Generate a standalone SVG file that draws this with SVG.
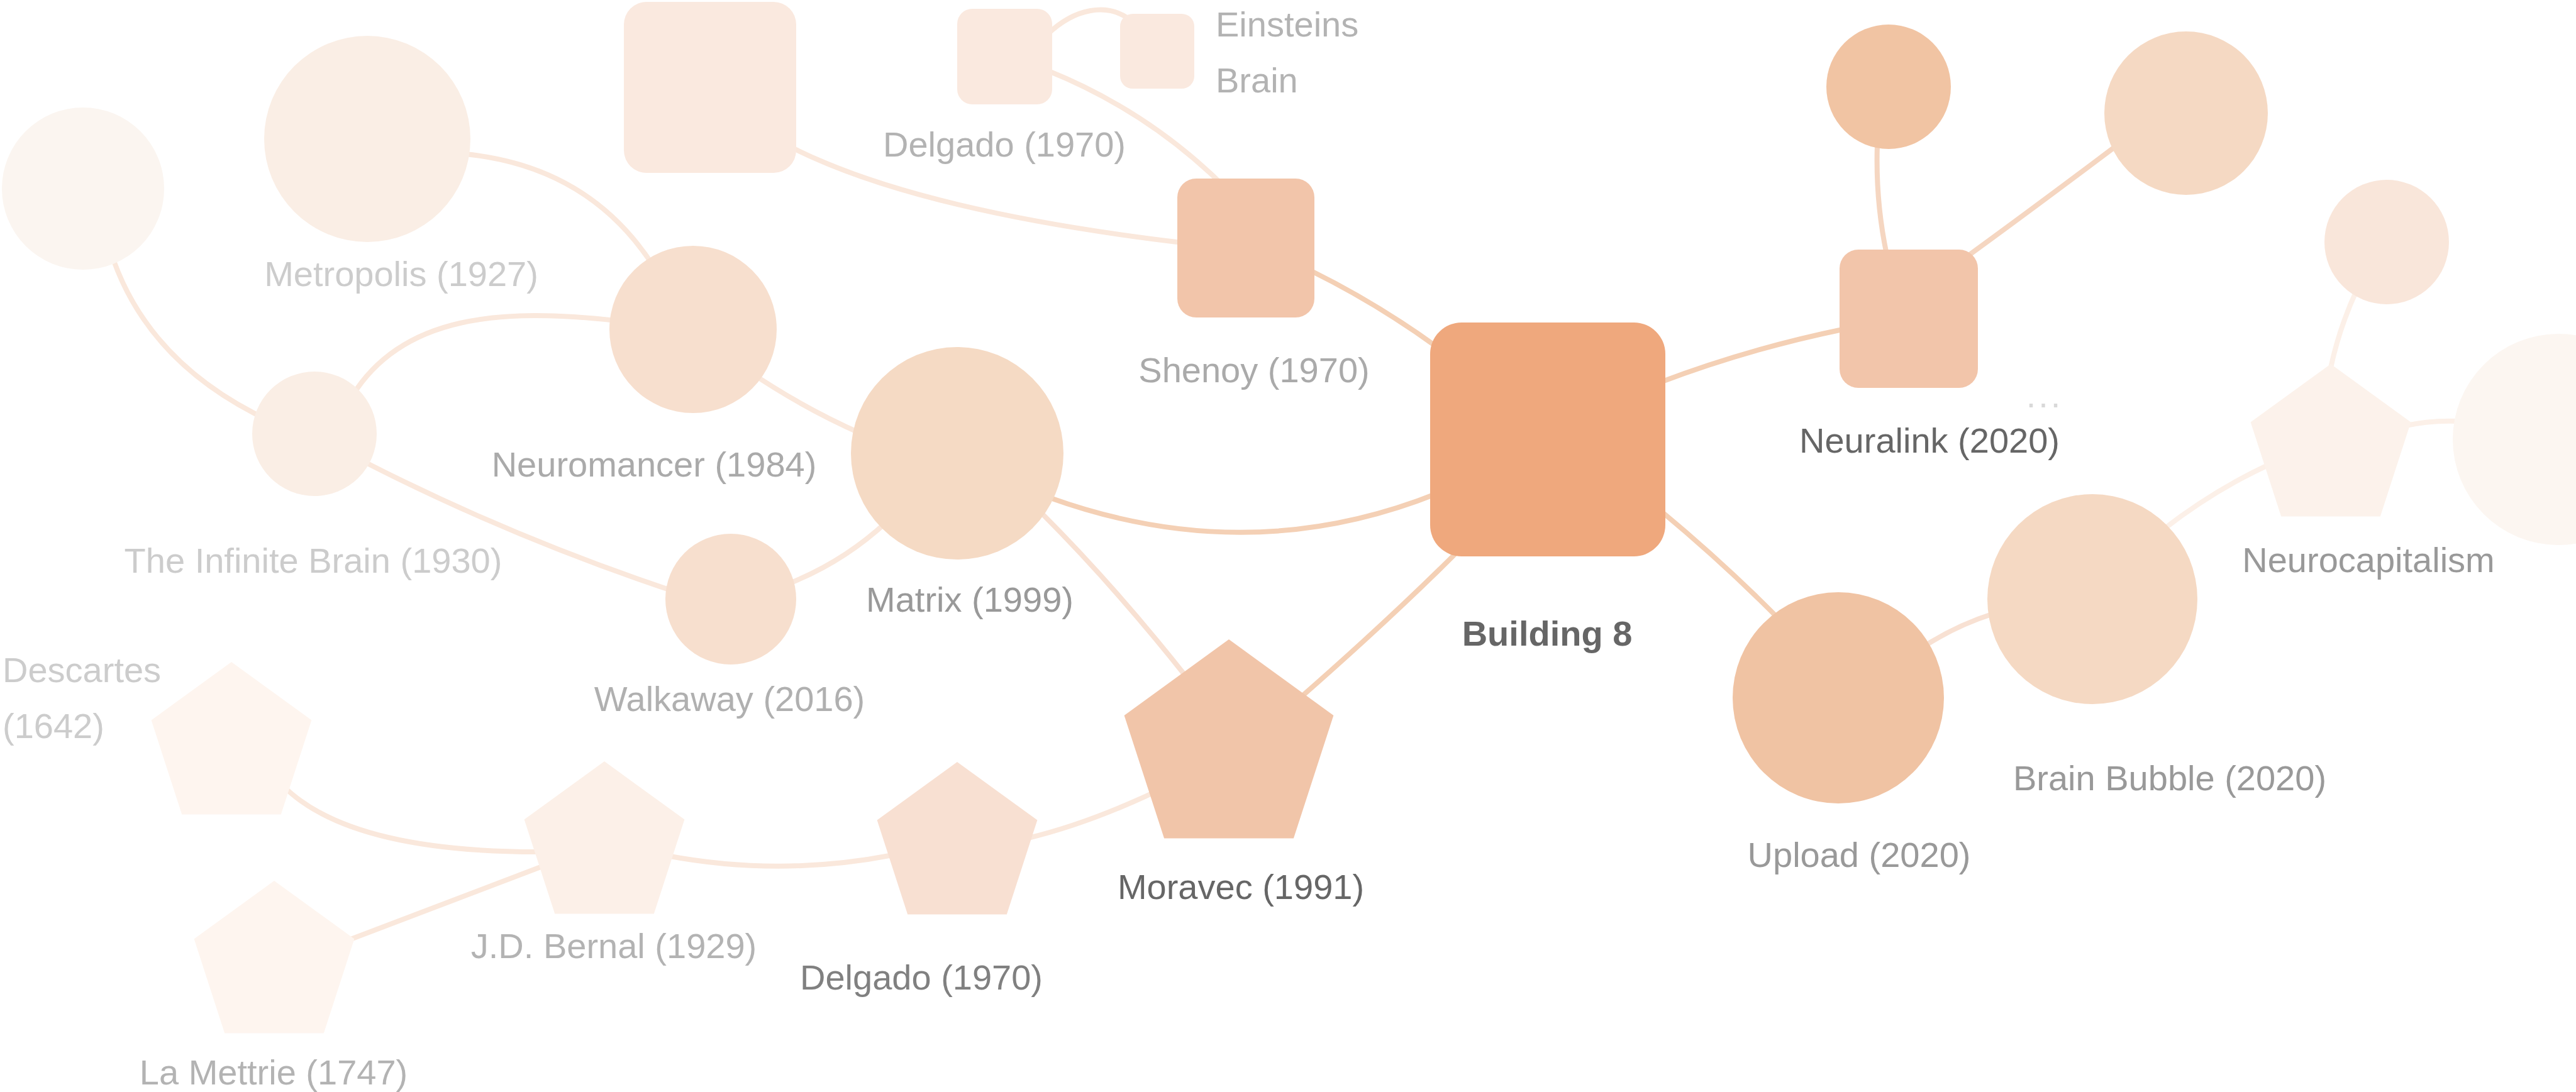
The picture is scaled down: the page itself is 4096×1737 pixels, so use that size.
<svg xmlns="http://www.w3.org/2000/svg" width="4096" height="1737" viewBox="0 0 4096 1737">
<style>
text{font-family:"Liberation Sans",Arial,Helvetica,sans-serif;font-size:56px;text-anchor:middle}
.l{text-anchor:start}
.e{fill:none;stroke-width:8;stroke-linecap:butt}
.e1{stroke:#F4D0B5}.e2{stroke:#F8E1D3}.e3{stroke:#FAE8DC}.e4{stroke:#FCF0E8}.e5{stroke:#F5D6C1}
</style>
<rect width="4096" height="1737" fill="#ffffff"/>
<g id="connectors">
<path class="e e3" d="M170,380 Q222,573 430,670"/>
<path class="e e3" d="M740,245 Q938,265 1040,425"/>
<path class="e e3" d="M560,630 C640,500 800,490 980,510"/>
<path class="e e3" d="M580,735 Q815,855 1070,940"/>
<path class="e e3" d="M1190,590 Q1275,648 1370,690"/>
<path class="e e3" d="M1250,930 Q1340,895 1410,830"/>
<path class="e e3" d="M1250,230 Q1450,335 1880,386"/>
<path class="e e3" d="M1665,55 C1710,12 1760,5 1795,30"/>
<path class="e e3" d="M1665,112 Q1827,177 1950,300"/>
<path class="e e1" d="M2085,431 Q2190,483 2285,552"/>
<path class="e e1" d="M1670,792 Q1985,905 2285,785"/>
<path class="e e2" d="M1655,815 Q1770,930 1885,1075"/>
<path class="e e1" d="M2320,875 Q2210,985 2065,1112"/>
<path class="e e3" d="M450,1250 Q555,1355 855,1355"/>
<path class="e e3" d="M1060,1361 Q1240,1395 1420,1360"/>
<path class="e e3" d="M555,1495 L865,1377"/>
<path class="e e3" d="M1635,1333 Q1730,1310 1838,1259"/>
<path class="e e1" d="M2640,608 Q2780,555 2930,524"/>
<path class="e e5" d="M3000,405 Q2982,320 2985,230"/>
<path class="e e5" d="M3125,410 Q3235,330 3365,232"/>
<path class="e e1" d="M2640,812 Q2740,895 2826,982"/>
<path class="e e2" d="M3058,1029 Q3110,995 3170,976"/>
<path class="e e4" d="M3440,842 Q3520,780 3606,740"/>
<path class="e e4" d="M3706,585 Q3720,520 3748,460"/>
<path class="e e4" d="M3820,678 Q3865,668 3910,670"/>
</g>
<g id="n-left-circle"><circle cx="132" cy="300" r="129" fill="#FBF5F0"/></g>
<g id="n-metropolis"><circle cx="584" cy="221" r="164" fill="#FAEEE5"/><text x="638" y="455" fill="#cccccc">Metropolis (1927)</text></g>
<g id="n-top-rect"><rect x="992" y="3" width="274" height="272" rx="36" fill="#FAE9DF"/></g>
<g id="n-delgado-top"><rect x="1522" y="14" width="151" height="152" rx="24" fill="#FAE9DF"/><text x="1597" y="249" fill="#b3b3b3">Delgado (1970)</text></g>
<g id="n-einsteins-brain"><rect x="1781" y="22" width="118" height="119" rx="20" fill="#FAE9DF"/><text class="l" x="1933" y="58" fill="#b3b3b3">Einsteins</text><text class="l" x="1933" y="147" fill="#b3b3b3">Brain</text></g>
<g id="n-shenoy"><rect x="1872" y="284" width="218" height="221" rx="30" fill="#F2C5AA"/><text x="1994" y="608" fill="#aaaaaa">Shenoy (1970)</text></g>
<g id="n-building8"><rect x="2274" y="513" width="374" height="372" rx="50" fill="#EFA87D"/><text x="2460" y="1027" fill="#666666" font-weight="bold">Building 8</text></g>
<g id="n-neuromancer"><circle cx="1102" cy="524" r="133" fill="#F7DFCE"/><text x="1040" y="758" fill="#aaaaaa">Neuromancer (1984)</text></g>
<g id="n-infinite-brain"><circle cx="500" cy="690" r="99" fill="#FAEEE5"/><text x="498" y="911" fill="#cccccc">The Infinite Brain (1930)</text></g>
<g id="n-matrix"><circle cx="1522" cy="721" r="169" fill="#F5DAC4"/><text x="1542" y="973" fill="#999999">Matrix (1999)</text></g>
<g id="n-walkaway"><circle cx="1162" cy="953" r="104" fill="#F7DFCE"/><text x="1160" y="1131" fill="#b0b0b0">Walkaway (2016)</text></g>
<g id="n-descartes"><polygon points="368,1053 495.4,1145.6 446.8,1295.4 289.2,1295.4 240.6,1145.6" fill="#FEF5EF"/><text class="l" x="4" y="1085" fill="#cccccc">Descartes</text><text class="l" x="4" y="1174" fill="#cccccc">(1642)</text></g>
<g id="n-bernal"><polygon points="961,1211 1088.4,1303.6 1039.8,1453.4 882.2,1453.4 833.6,1303.6" fill="#FCF0E8"/><text x="976" y="1524" fill="#b3b3b3">J.D. Bernal (1929)</text></g>
<g id="n-lamettrie"><polygon points="436,1401 563.4,1493.6 514.8,1643.4 357.2,1643.4 308.6,1493.6" fill="#FEF5EF"/><text x="435" y="1725" fill="#b3b3b3">La Mettrie (1747)</text></g>
<g id="n-delgado"><polygon points="1522,1212 1649.4,1304.6 1600.8,1454.4 1443.2,1454.4 1394.6,1304.6" fill="#F8E0D2"/><text x="1465" y="1574" fill="#808080">Delgado (1970)</text></g>
<g id="n-moravec"><polygon points="1954,1017 2120.4,1137.9 2056.9,1333.6 1851.1,1333.6 1787.6,1137.9" fill="#F1C5A9"/><text x="1973" y="1430" fill="#666666">Moravec (1991)</text></g>
<g id="n-neuralink"><rect x="2925" y="397" width="220" height="220" rx="30" fill="#F2C5AA"/><text x="3251" y="648" fill="#d9d9d9" letter-spacing="4">...</text><text x="3068" y="720" fill="#666666">Neuralink (2020)</text></g>
<g id="n-top-circle"><circle cx="3003" cy="138" r="99" fill="#F1C4A3"/></g>
<g id="n-circle2"><circle cx="3476" cy="180" r="130" fill="#F5D9C3"/></g>
<g id="n-circle3"><circle cx="3795" cy="385" r="99" fill="#F9E6DA"/></g>
<g id="n-neurocapitalism"><polygon points="3706,579 3833.4,671.6 3784.8,821.4 3627.2,821.4 3578.6,671.6" fill="#FCF2EB"/><text x="3766" y="910" fill="#999999">Neurocapitalism</text></g>
<g id="n-right-circle"><circle cx="4068" cy="699" r="168" fill="#FCF6F1"/></g>
<g id="n-brain-bubble"><circle cx="3327" cy="953" r="167" fill="#F5D9C3"/><text x="3450" y="1257" fill="#999999">Brain Bubble (2020)</text></g>
<g id="n-upload"><circle cx="2923" cy="1110" r="168" fill="#F0C3A3"/><text x="2956" y="1379" fill="#999999">Upload (2020)</text></g>
</svg>
